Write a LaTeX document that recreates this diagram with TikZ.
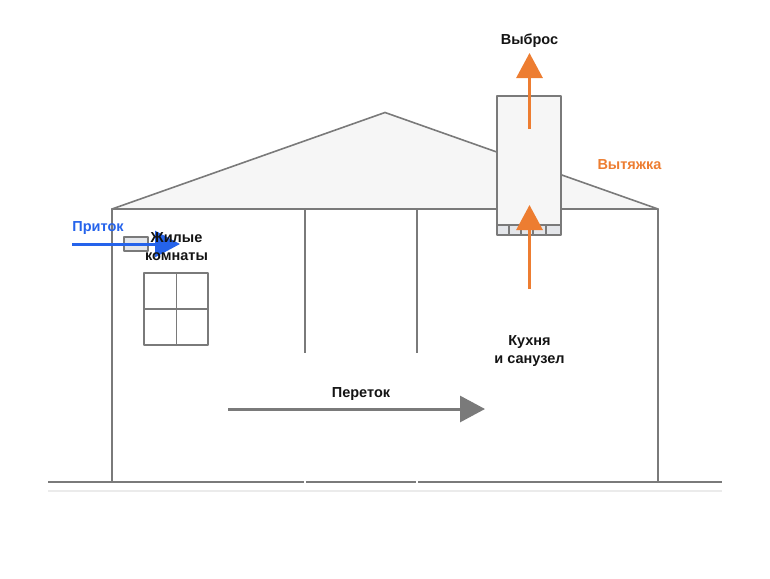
\documentclass[tikz,border=0pt]{standalone}
\usepackage{fontspec}
\setmainfont{Liberation Sans}
\usetikzlibrary{arrows.meta}
\definecolor{wall}{HTML}{7A7A7A}
\definecolor{orng}{HTML}{ED7D31}
\definecolor{blu}{HTML}{2563EB}
\definecolor{grillefill}{HTML}{E4E6EA}
\tikzset{
  x=1pt,y=-1pt,
  wallline/.style={draw=wall,line width=1.6pt,line join=round},
  thin line/.style={draw=wall,line width=1.2pt},
  grille/.style={draw=wall,fill=grillefill,line width=1.6pt,line join=round},
  lab/.style={font=\fontsize{14.5}{18}\selectfont\bfseries,align=center,inner sep=0pt,text=black!92},
  orangearrow/.style={draw=orng,line width=3pt,-{Triangle[width=26pt,length=25pt,fill=orng]}},
  bluearrow/.style={draw=blu,line width=3pt,-{Triangle[width=26pt,length=25pt,fill=blu]}},
  greyarrow/.style={draw=wall,line width=3pt,-{Triangle[width=26pt,length=25pt,fill=wall]}},
}
\begin{document}
\begin{tikzpicture}
\useasboundingbox (0,0) rectangle (770,578);
% roof and house
\path[wallline,fill=black!3.5] (112,209) -- (385,112.5) -- (658,209) -- cycle;
\path[wallline,fill=white] (112,209) rectangle (658,482);
% ground
\draw[wallline] (48,482) -- (722,482);
\draw[draw=black!8,line width=1.2pt] (48,491) -- (722,491);
\draw[white,line width=1.5pt] (304.8,480.5) -- (304.8,483);
\draw[white,line width=1.5pt] (417,480.5) -- (417,483);
% interior walls
\draw[wallline] (305,209) -- (305,353);
\draw[wallline] (417,209) -- (417,353);
% chimney
\path[wallline,fill=black!3.5] (497,96) rectangle (561,225);
\path[grille] (497,225) rectangle (561,235);
\foreach \gx in {509,521,533,546}{\draw[thin line] (\gx,225) -- (\gx,235);}
% window
\path[wallline,fill=white] (144,273) rectangle (208,345);
\draw[thin line] (176.5,273) -- (176.5,345);
\draw[thin line] (144,309) -- (208,309);
% vent
\path[grille] (124,237) rectangle (148,251);
% coordinates
\coordinate (inA) at (72,244);
\coordinate (inB) at (180,244);
\coordinate (ventA) at (529.5,129);
\coordinate (ventB) at (529.5,53);
\coordinate (kitA) at (529.5,289);
\coordinate (kitB) at (529.5,205);
\coordinate (flowA) at (228,409);
\coordinate (flowB) at (485,409);
% arrows
\draw[bluearrow] (inA) -- (inB);
\draw[orangearrow] (ventA) -- (ventB);
\draw[orangearrow] (kitA) -- (kitB);
\draw[greyarrow] (flowA) -- (flowB);
% labels
\node[lab] (vybros) at (529.5,41) {Выброс};
\node[lab,text=orng] (vytyazhka) at (629.5,165) {Вытяжка};
\node[lab,text=blu] (pritok) at (98,228) {Приток};
\node[lab] (zhilye) at (176.5,246.5) {Жилые\\комнаты};
\node[lab] (kukhnya) at (529.5,351.5) {Кухня\\и санузел};
\node[lab] (peretok) at (361,394) {Переток};
\end{tikzpicture}
\end{document}
